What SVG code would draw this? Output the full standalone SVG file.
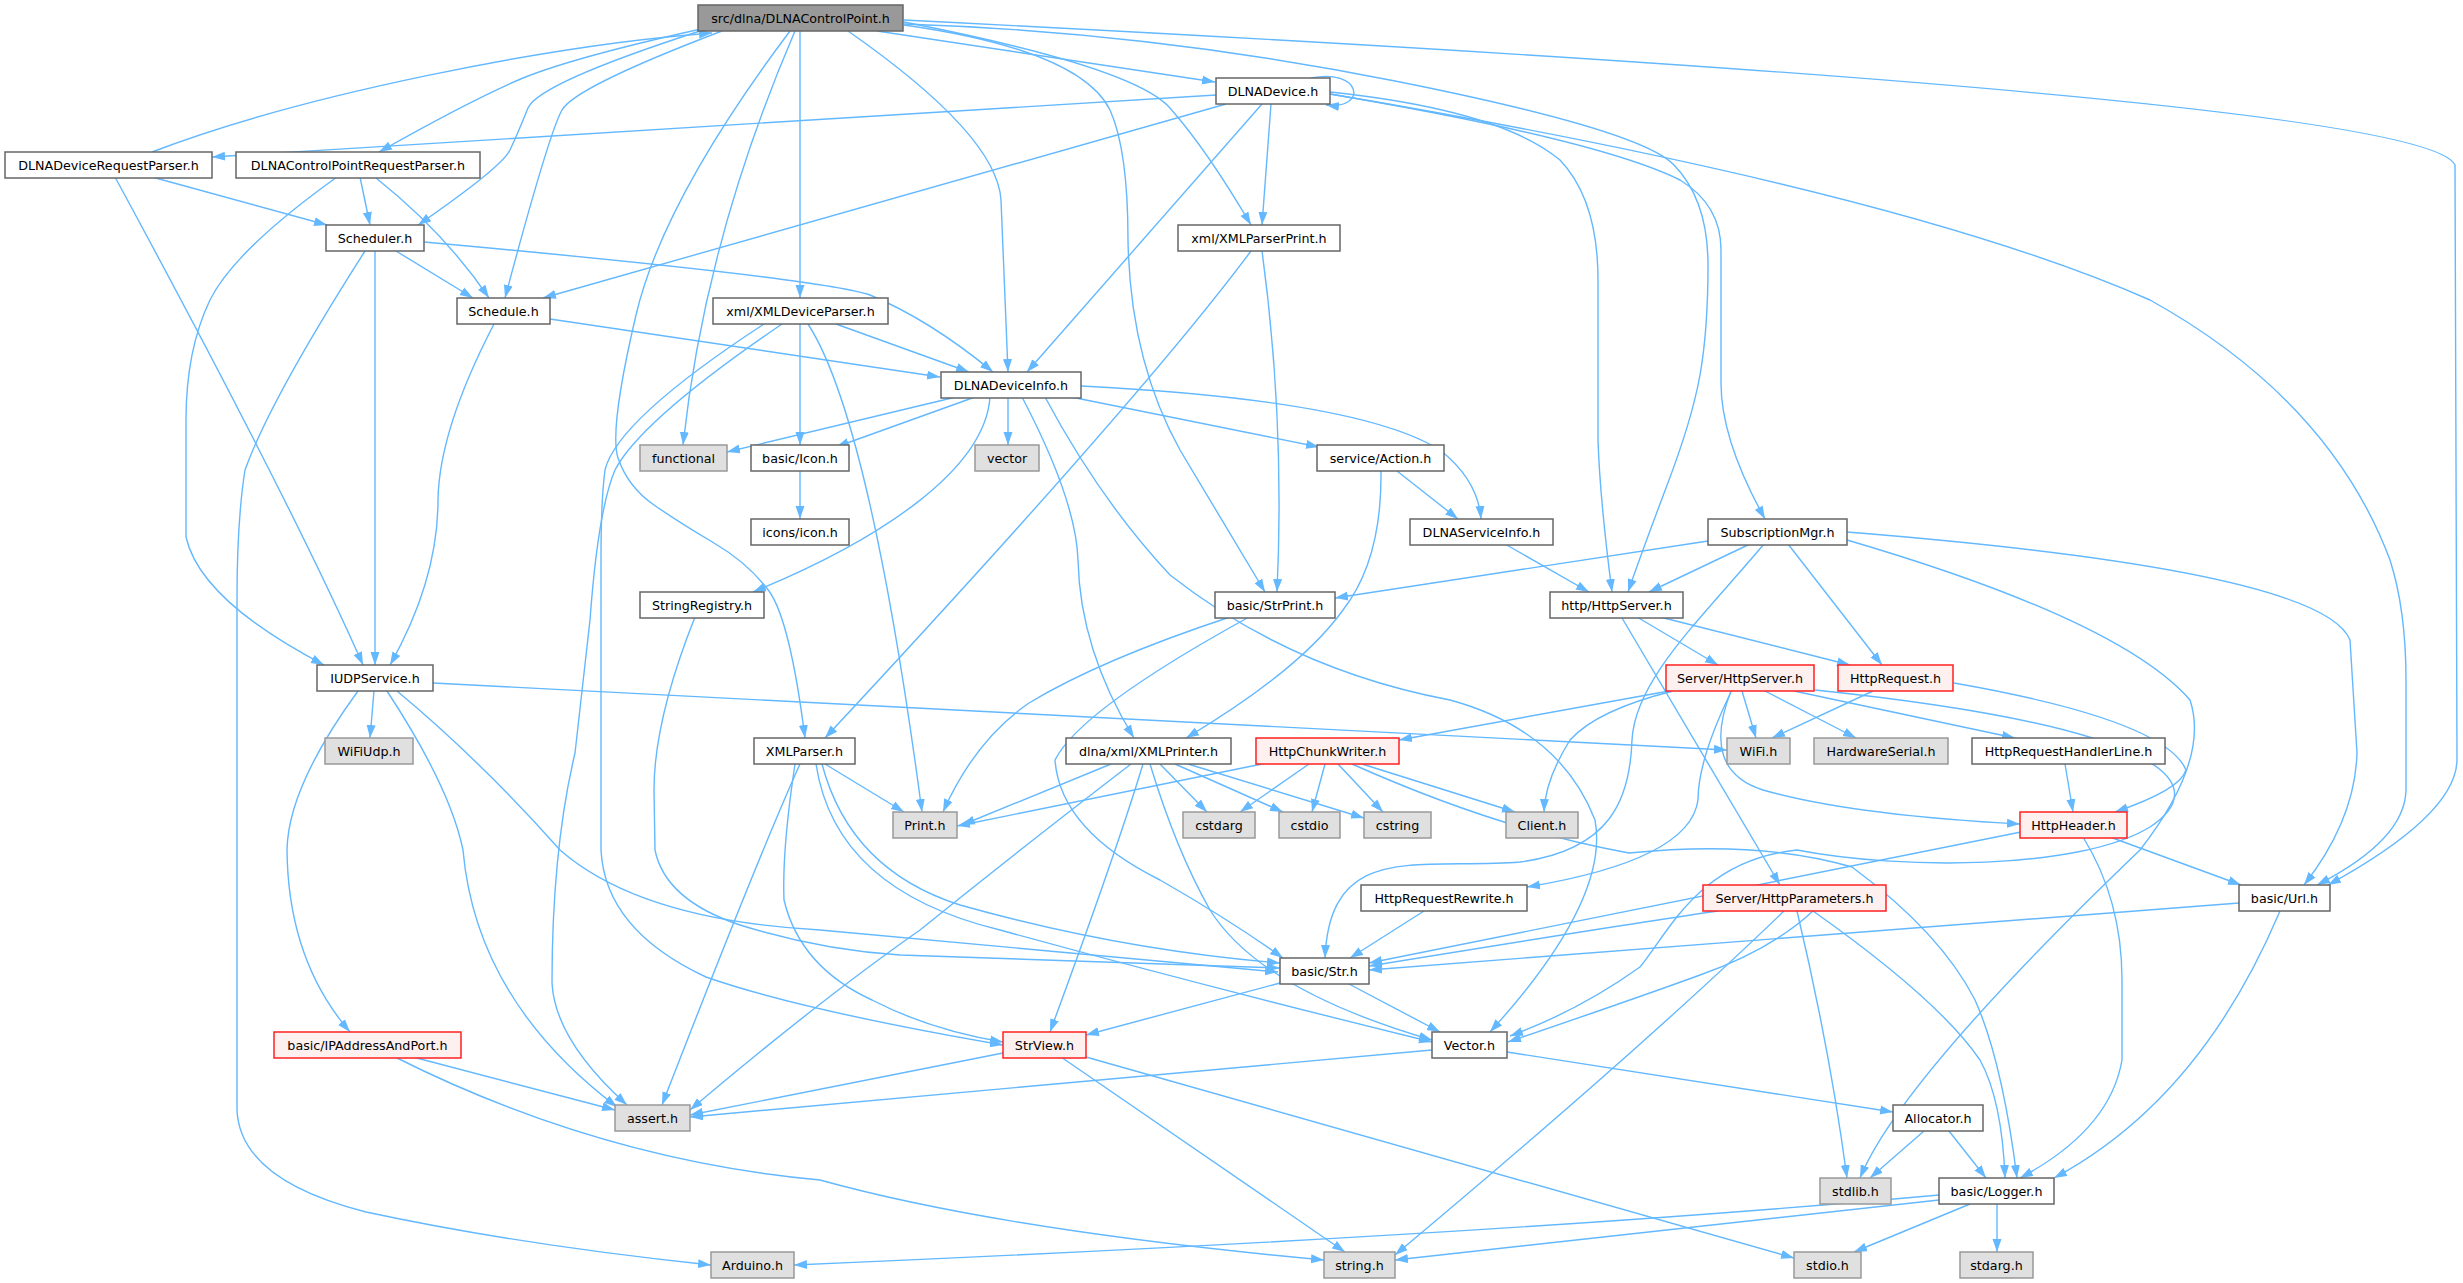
<svg xmlns="http://www.w3.org/2000/svg" width="2463" height="1283" viewBox="0 0 2463 1283">
<style>
.e{fill:none;stroke:#63b8ff;stroke-width:1.4;marker-end:url(#arr)}
.n rect{fill:#ffffff;stroke:#666666;stroke-width:1.5}
.x rect{fill:#e0e0e0;stroke:#999999;stroke-width:1.5}
.r rect{fill:#fff0f0;stroke:#ff2020;stroke-width:1.5}
.root rect{fill:#999999;stroke:#666666;stroke-width:1.5}
text{font-family:"DejaVu Sans","Liberation Sans",sans-serif;font-size:12.7px;fill:#000;text-anchor:middle}
</style>
<defs>
<marker id="arr" markerUnits="userSpaceOnUse" markerWidth="14" markerHeight="10" viewBox="0 0 14 10" refX="13" refY="5" orient="auto">
<path d="M0,0.5 L13,5 L0,9.5 z" fill="#63b8ff"/>
</marker>
</defs>
<rect width="2463" height="1283" fill="#ffffff"/>
<g id="edges">
<path class="e" d="M877,31 L1215,82"/>
<path class="e" d="M701,29 Q575,57 523,78 Q471,100 379,152"/>
<path class="e" d="M700,31 Q539,83 528,108 Q518,133 510,150 Q502,167 418,225"/>
<path class="e" d="M722,31 Q575,87 562,110 Q549,133 505,298"/>
<path class="e" d="M848,31 Q997,135 1001,200 L1008,372"/>
<path class="e" d="M800,31 L800,298"/>
<path class="e" d="M790,31 Q663,200 636,315 Q609,430 618,458 Q628,487 654,505 Q680,523 714,543 Q748,563 769,591 Q790,620 805,738"/>
<path class="e" d="M795,31 Q705,240 683,445"/>
<path class="e" d="M904,25 Q1080,50 1110,110 Q1128,150 1128,240 Q1130,360 1180,450 L1265,592"/>
<path class="e" d="M904,22 Q1134,67 1170,108 Q1207,150 1251,225"/>
<path class="e" d="M904,24 Q1150,32 1395,81 Q1641,130 1674,165 Q1708,200 1708,265 Q1708,330 1700,375 Q1692,420 1666,488 Q1640,557 1628,592"/>
<path class="e" d="M904,20 C1700,60 2430,110 2455,165 L2457,760 Q2456,815 2328,885"/>
<path class="e" d="M152,152 C300,95 550,45 712,33"/>
<path class="e" d="M1311,78 C1362,68 1368,110 1326,105"/>
<path class="e" d="M1216,95 L212,157"/>
<path class="e" d="M1226,104 L543,298"/>
<path class="e" d="M1262,104 L1027,372"/>
<path class="e" d="M1271,104 L1262,225"/>
<path class="e" d="M1330,92 Q1500,110 1560,160 Q1598,200 1598,280 L1598,440 Q1600,500 1612,592"/>
<path class="e" d="M1330,94 Q1600,140 1680,180 Q1721,205 1721,250 L1721,383 Q1721,440 1765,519"/>
<path class="e" d="M1330,94 Q1900,190 2150,300 Q2330,400 2390,560 Q2406,610 2406,680 L2406,790 Q2405,840 2317,885"/>
<path class="e" d="M152,177 L327,225"/>
<path class="e" d="M115,177 Q290,500 363,665"/>
<path class="e" d="M360,177 L370,225"/>
<path class="e" d="M376,178 Q445,233 489,298"/>
<path class="e" d="M337,177 Q235,250 210,300 Q186,350 186,420 L186,537 Q200,600 324,665"/>
<path class="e" d="M396,251 L473,298"/>
<path class="e" d="M375,251 L375,665"/>
<path class="e" d="M424,242 Q820,278 870,295 Q930,320 993,372"/>
<path class="e" d="M365,251 Q270,400 245,470 Q237,520 237,600 L237,1110 Q240,1180 366,1212 Q520,1245 711,1265"/>
<path class="e" d="M550,319 L940,377"/>
<path class="e" d="M494,324 Q439,430 438,500 Q438,580 390,665"/>
<path class="e" d="M836,324 L969,372"/>
<path class="e" d="M800,324 L800,445"/>
<path class="e" d="M808,324 Q870,420 922,812"/>
<path class="e" d="M782,324 Q641,420 615,470 Q598,510 590,620 L575,753 Q552,850 552,983 Q555,1040 627,1105"/>
<path class="e" d="M764,324 Q617,420 605,470 Q601,500 601,560 L601,850 Q605,930 706,977 Q800,1010 1003,1045"/>
<path class="e" d="M956,397 L727,452"/>
<path class="e" d="M975,397 L836,447"/>
<path class="e" d="M1008,397 L1008,445"/>
<path class="e" d="M1071,397 L1319,447"/>
<path class="e" d="M1081,386 Q1360,400 1440,450 Q1478,480 1481,519"/>
<path class="e" d="M990,397 C985,470 880,540 753,592"/>
<path class="e" d="M1022,397 Q1076,500 1078,560 Q1080,650 1134,738"/>
<path class="e" d="M1045,397 Q1100,500 1170,575 Q1291,670 1450,700 Q1560,730 1595,820 Q1610,900 1490,1032"/>
<path class="e" d="M1397,471 L1458,519"/>
<path class="e" d="M1381,471 Q1382,560 1343,610 Q1300,670 1186,738"/>
<path class="e" d="M800,471 L800,519"/>
<path class="e" d="M1505,544 L1589,592"/>
<path class="e" d="M695,617 Q654,720 654,790 L655,850 Q665,900 740,925 Q820,950 900,955 L1280,968"/>
<path class="e" d="M1230,617 Q1100,660 1029,703 Q975,740 943,812"/>
<path class="e" d="M1249,617 Q1080,710 1055,760 Q1060,830 1160,880 Q1230,920 1283,958"/>
<path class="e" d="M1251,251 Q1140,400 825,738"/>
<path class="e" d="M1262,251 Q1285,420 1277,592"/>
<path class="e" d="M1637,617 L1718,665"/>
<path class="e" d="M1660,617 L1850,665"/>
<path class="e" d="M1622,618 L1780,885"/>
<path class="e" d="M1708,541 L1335,598"/>
<path class="e" d="M1750,544 L1649,592"/>
<path class="e" d="M1788,544 L1882,665"/>
<path class="e" d="M1764,544 C1700,620 1635,680 1632,740 C1630,800 1610,850 1520,862 C1420,870 1330,840 1325,958"/>
<path class="e" d="M1847,532 Q2322,570 2350,640 L2357,753 Q2355,820 2304,885"/>
<path class="e" d="M1847,540 Q2120,620 2190,700 Q2210,760 2140,850 Q1900,1080 1860,1178"/>
<path class="e" d="M1742,691 L1756,738"/>
<path class="e" d="M1765,691 L1856,738"/>
<path class="e" d="M1794,691 L2015,738"/>
<path class="e" d="M1731,691 Q1700,770 1763,790 Q1850,815 2020,824"/>
<path class="e" d="M1673,691 Q1597,710 1570,740 Q1545,780 1544,812"/>
<path class="e" d="M1669,691 L1399,740"/>
<path class="e" d="M1731,692 Q1698,760 1698,800 Q1690,860 1527,887"/>
<path class="e" d="M1815,690 C2150,725 2220,780 2150,827 C2080,870 1900,870 1797,850 C1700,860 1670,930 1640,967 Q1580,1010 1510,1036"/>
<path class="e" d="M1954,683 Q2165,720 2186,770 Q2180,790 2115,812"/>
<path class="e" d="M1873,691 L1772,738"/>
<path class="e" d="M2065,764 L2073,812"/>
<path class="e" d="M2083,837 Q2122,900 2122,980 L2122,1060 Q2110,1130 2020,1178"/>
<path class="e" d="M2110,837 L2241,885"/>
<path class="e" d="M2021,832 L1369,963"/>
<path class="e" d="M1718,911 Q1640,922 1369,966"/>
<path class="e" d="M1813,911 Q1771,950 1700,975 Q1640,997 1508,1042"/>
<path class="e" d="M1784,911 Q1640,1050 1395,1255"/>
<path class="e" d="M1797,911 Q1830,1050 1847,1178"/>
<path class="e" d="M1813,911 Q1939,1000 1980,1060 Q2002,1100 2005,1178"/>
<path class="e" d="M1262,764 L957,826"/>
<path class="e" d="M1309,764 L1240,812"/>
<path class="e" d="M1325,764 L1312,812"/>
<path class="e" d="M1338,764 L1383,812"/>
<path class="e" d="M1362,764 L1515,812"/>
<path class="e" d="M1352,764 Q1500,830 1629,853 Q1760,840 1852,867 Q1941,933 1975,1000 Q2002,1060 2017,1178"/>
<path class="e" d="M1111,764 L962,825"/>
<path class="e" d="M1160,764 L1207,812"/>
<path class="e" d="M1175,764 L1283,812"/>
<path class="e" d="M1188,764 L1364,818"/>
<path class="e" d="M1131,764 Q1019,850 920,930 Q820,1000 690,1110"/>
<path class="e" d="M1143,764 Q1117,850 1050,1032"/>
<path class="e" d="M1150,764 Q1176,850 1210,910 Q1260,990 1432,1040"/>
<path class="e" d="M825,764 L904,812"/>
<path class="e" d="M800,764 Q761,850 662,1105"/>
<path class="e" d="M795,764 Q782,850 784,900 Q800,967 872,1000 Q930,1030 1003,1042"/>
<path class="e" d="M822,764 Q850,870 960,905 Q1120,950 1280,963"/>
<path class="e" d="M816,764 Q835,890 1000,930 Q1200,985 1432,1042"/>
<path class="e" d="M1003,1053 L690,1115"/>
<path class="e" d="M1061,1057 L1345,1252"/>
<path class="e" d="M1086,1057 L1794,1258"/>
<path class="e" d="M1432,1050 L690,1117"/>
<path class="e" d="M1507,1052 L1893,1112"/>
<path class="e" d="M1280,983 L1086,1035"/>
<path class="e" d="M1349,984 L1440,1032"/>
<path class="e" d="M1924,1131 L1870,1178"/>
<path class="e" d="M1949,1131 L1986,1178"/>
<path class="e" d="M1939,1195 Q1500,1235 794,1265"/>
<path class="e" d="M1939,1200 L1395,1260"/>
<path class="e" d="M1970,1204 L1854,1252"/>
<path class="e" d="M1997,1204 L1997,1252"/>
<path class="e" d="M2239,903 L1369,970"/>
<path class="e" d="M2280,911 Q2200,1100 2054,1178"/>
<path class="e" d="M1424,911 L1350,958"/>
<path class="e" d="M374,691 L370,738"/>
<path class="e" d="M433,683 L1727,750"/>
<path class="e" d="M358,691 Q288,787 287,850 Q288,960 350,1032"/>
<path class="e" d="M387,691 Q450,787 463,850 Q476,1000 617,1107"/>
<path class="e" d="M397,691 Q480,760 560,850 Q640,920 820,930 L1278,972"/>
<path class="e" d="M413,1057 L615,1110"/>
<path class="e" d="M395,1057 Q600,1160 820,1180 Q1000,1230 1324,1260"/>
</g>
<g id="n_root" class="root"><rect x="698" y="5" width="205" height="26"/><text x="800.5" y="22.5">src/dlna/DLNAControlPoint.h</text></g>
<g id="n_dev" class="n"><rect x="1216" y="78" width="114" height="26"/><text x="1273" y="95.5">DLNADevice.h</text></g>
<g id="n_drp" class="n"><rect x="5" y="152" width="207" height="26"/><text x="108.5" y="169.5">DLNADeviceRequestParser.h</text></g>
<g id="n_cprp" class="n"><rect x="236" y="152" width="244" height="26"/><text x="358" y="169.5">DLNAControlPointRequestParser.h</text></g>
<g id="n_sched" class="n"><rect x="326" y="225" width="98" height="26"/><text x="375" y="242.5">Scheduler.h</text></g>
<g id="n_xpp" class="n"><rect x="1178" y="225" width="162" height="26"/><text x="1259" y="242.5">xml/XMLParserPrint.h</text></g>
<g id="n_schedule" class="n"><rect x="457" y="298" width="93" height="26"/><text x="503.5" y="315.5">Schedule.h</text></g>
<g id="n_xdp" class="n"><rect x="713" y="298" width="175" height="26"/><text x="800.5" y="315.5">xml/XMLDeviceParser.h</text></g>
<g id="n_dinfo" class="n"><rect x="941" y="372" width="140" height="26"/><text x="1011" y="389.5">DLNADeviceInfo.h</text></g>
<g id="n_functional" class="x"><rect x="640" y="445" width="87" height="26"/><text x="683.5" y="462.5">functional</text></g>
<g id="n_icon" class="n"><rect x="751" y="445" width="98" height="26"/><text x="800" y="462.5">basic/Icon.h</text></g>
<g id="n_vector" class="x"><rect x="975" y="445" width="64" height="26"/><text x="1007" y="462.5">vector</text></g>
<g id="n_action" class="n"><rect x="1317" y="445" width="127" height="26"/><text x="1380.5" y="462.5">service/Action.h</text></g>
<g id="n_iconsicon" class="n"><rect x="751" y="519" width="98" height="26"/><text x="800" y="536.5">icons/icon.h</text></g>
<g id="n_dsi" class="n"><rect x="1410" y="519" width="143" height="26"/><text x="1481.5" y="536.5">DLNAServiceInfo.h</text></g>
<g id="n_submgr" class="n"><rect x="1708" y="519" width="139" height="26"/><text x="1777.5" y="536.5">SubscriptionMgr.h</text></g>
<g id="n_strreg" class="n"><rect x="640" y="592" width="124" height="26"/><text x="702" y="609.5">StringRegistry.h</text></g>
<g id="n_strprint" class="n"><rect x="1215" y="592" width="120" height="26"/><text x="1275" y="609.5">basic/StrPrint.h</text></g>
<g id="n_httpserver" class="n"><rect x="1550" y="592" width="133" height="26"/><text x="1616.5" y="609.5">http/HttpServer.h</text></g>
<g id="n_iudp" class="n"><rect x="317" y="665" width="116" height="26"/><text x="375" y="682.5">IUDPService.h</text></g>
<g id="n_shs" class="r"><rect x="1666" y="665" width="148" height="26"/><text x="1740" y="682.5">Server/HttpServer.h</text></g>
<g id="n_hreq" class="r"><rect x="1838" y="665" width="115" height="26"/><text x="1895.5" y="682.5">HttpRequest.h</text></g>
<g id="n_wifiudp" class="x"><rect x="325" y="738" width="88" height="26"/><text x="369" y="755.5">WiFiUdp.h</text></g>
<g id="n_xmlparser" class="n"><rect x="754" y="738" width="101" height="26"/><text x="804.5" y="755.5">XMLParser.h</text></g>
<g id="n_xmlprinter" class="n"><rect x="1066" y="738" width="165" height="26"/><text x="1148.5" y="755.5">dlna/xml/XMLPrinter.h</text></g>
<g id="n_chunk" class="r"><rect x="1256" y="738" width="143" height="26"/><text x="1327.5" y="755.5">HttpChunkWriter.h</text></g>
<g id="n_wifi" class="x"><rect x="1727" y="738" width="63" height="26"/><text x="1758.5" y="755.5">WiFi.h</text></g>
<g id="n_hws" class="x"><rect x="1814" y="738" width="134" height="26"/><text x="1881" y="755.5">HardwareSerial.h</text></g>
<g id="n_hrhl" class="n"><rect x="1972" y="738" width="193" height="26"/><text x="2068.5" y="755.5">HttpRequestHandlerLine.h</text></g>
<g id="n_print" class="x"><rect x="893" y="812" width="64" height="26"/><text x="925" y="829.5">Print.h</text></g>
<g id="n_cstdarg" class="x"><rect x="1183" y="812" width="72" height="26"/><text x="1219" y="829.5">cstdarg</text></g>
<g id="n_cstdio" class="x"><rect x="1279" y="812" width="61" height="26"/><text x="1309.5" y="829.5">cstdio</text></g>
<g id="n_cstring" class="x"><rect x="1364" y="812" width="67" height="26"/><text x="1397.5" y="829.5">cstring</text></g>
<g id="n_client" class="x"><rect x="1506" y="812" width="72" height="26"/><text x="1542" y="829.5">Client.h</text></g>
<g id="n_hheader" class="r"><rect x="2020" y="812" width="107" height="26"/><text x="2073.5" y="829.5">HttpHeader.h</text></g>
<g id="n_hrr" class="n"><rect x="1361" y="885" width="166" height="26"/><text x="1444" y="902.5">HttpRequestRewrite.h</text></g>
<g id="n_hparams" class="r"><rect x="1703" y="885" width="183" height="26"/><text x="1794.5" y="902.5">Server/HttpParameters.h</text></g>
<g id="n_url" class="n"><rect x="2239" y="885" width="91" height="26"/><text x="2284.5" y="902.5">basic/Url.h</text></g>
<g id="n_str" class="n"><rect x="1280" y="958" width="89" height="26"/><text x="1324.5" y="975.5">basic/Str.h</text></g>
<g id="n_ipap" class="r"><rect x="274" y="1032" width="187" height="26"/><text x="367.5" y="1049.5">basic/IPAddressAndPort.h</text></g>
<g id="n_strview" class="r"><rect x="1003" y="1032" width="83" height="26"/><text x="1044.5" y="1049.5">StrView.h</text></g>
<g id="n_vec" class="n"><rect x="1432" y="1032" width="75" height="26"/><text x="1469.5" y="1049.5">Vector.h</text></g>
<g id="n_assert" class="x"><rect x="615" y="1105" width="75" height="26"/><text x="652.5" y="1122.5">assert.h</text></g>
<g id="n_alloc" class="n"><rect x="1893" y="1105" width="90" height="26"/><text x="1938" y="1122.5">Allocator.h</text></g>
<g id="n_stdlib" class="x"><rect x="1820" y="1178" width="71" height="26"/><text x="1855.5" y="1195.5">stdlib.h</text></g>
<g id="n_logger" class="n"><rect x="1939" y="1178" width="115" height="26"/><text x="1996.5" y="1195.5">basic/Logger.h</text></g>
<g id="n_arduino" class="x"><rect x="711" y="1252" width="83" height="26"/><text x="752.5" y="1269.5">Arduino.h</text></g>
<g id="n_string" class="x"><rect x="1324" y="1252" width="71" height="26"/><text x="1359.5" y="1269.5">string.h</text></g>
<g id="n_stdio" class="x"><rect x="1794" y="1252" width="67" height="26"/><text x="1827.5" y="1269.5">stdio.h</text></g>
<g id="n_stdarg" class="x"><rect x="1960" y="1252" width="73" height="26"/><text x="1996.5" y="1269.5">stdarg.h</text></g>
</svg>
